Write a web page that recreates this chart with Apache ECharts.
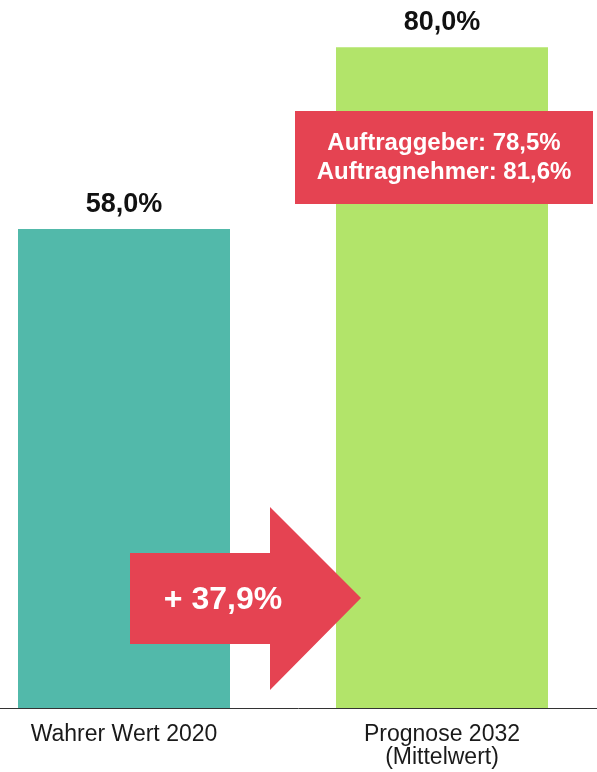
<!DOCTYPE html>
<html>
<head>
<meta charset="utf-8">
<script src="https://cdn.jsdelivr.net/npm/echarts@6/dist/echarts.min.js"></script>
<style>
	html, body { margin: 0; padding: 0; background: #fff; }
	#chart-container { width: 597px; height: 772px; }
</style>
</head>
<body>
<div id="chart-container"></div>
<script>
const categories = ['Wahrer Wert 2020', 'Prognose 2032\n(Mittelwert)'];
const values = [58.0, 80.0];
const barColors = ['#52b9aa', '#b2e46a'];
const boxLines = ['Auftraggeber: 78,5%', 'Auftragnehmer: 81,6%'];
const changeText = '+ 37,9%';

const FONT = '"Liberation Sans", Arial, sans-serif';
const RED = '#e54352';

let dom = document.getElementById('chart-container');
let myChart = echarts.init(dom, null, { renderer: 'canvas' });

let option = {
	animation: false,
	grid: {
		left: -35,
		width: 636,
		top: 6,
		bottom: 64,
		containLabel: false,
		outerBoundsMode: 'none',
	},
	xAxis: {
		type: 'category',
		data: categories,
		axisTick: { show: false },
		axisLine: { lineStyle: { color: '#333', width: 1 } },
		axisLabel: {
			color: '#1a1a1a',
			fontFamily: FONT,
			fontSize: 23,
			lineHeight: 23,
			margin: 15,
			interval: 0,
		},
	},
	yAxis: {
		type: 'value',
		min: 0,
		max: 85,
		show: false,
		splitLine: { show: false },
	},
	series: [
		{
			type: 'bar',
			barWidth: 212,
			data: values.map(function (v, i) {
				return { value: v, itemStyle: { color: barColors[i] } };
			}),
			label: {
				show: true,
				position: 'top',
				distance: 11,
				color: '#111',
				fontFamily: FONT,
				fontWeight: 'bold',
				fontSize: 27,
				formatter: function (p) {
					return p.value.toFixed(1).replace('.', ',') + '%';
				},
			},
		},
	],
	graphic: [
		{
			type: 'rect',
			shape: { x: 295, y: 111, width: 298, height: 93 },
			style: { fill: RED },
			z: 10,
		},
		{
			type: 'text',
			x: 444,
			y: 158,
			style: {
				text: boxLines.join('\n'),
				fill: '#fff',
				font: 'bold 24px ' + FONT,
				lineHeight: 29,
				align: 'center',
				verticalAlign: 'middle',
			},
			z: 11,
		},
		{
			type: 'polygon',
			shape: {
				points: [
					[130, 553], [270, 553], [270, 507], [361, 598],
					[270, 690], [270, 644], [130, 644],
				],
			},
			style: { fill: RED },
			z: 10,
		},
		{
			type: 'text',
			x: 223,
			y: 600,
			style: {
				text: changeText,
				fill: '#fff',
				font: 'bold 32px ' + FONT,
				align: 'center',
				verticalAlign: 'middle',
			},
			z: 11,
		},
	],
};

myChart.setOption(option);
window.addEventListener('resize', myChart.resize);
</script>
</body>
</html>
